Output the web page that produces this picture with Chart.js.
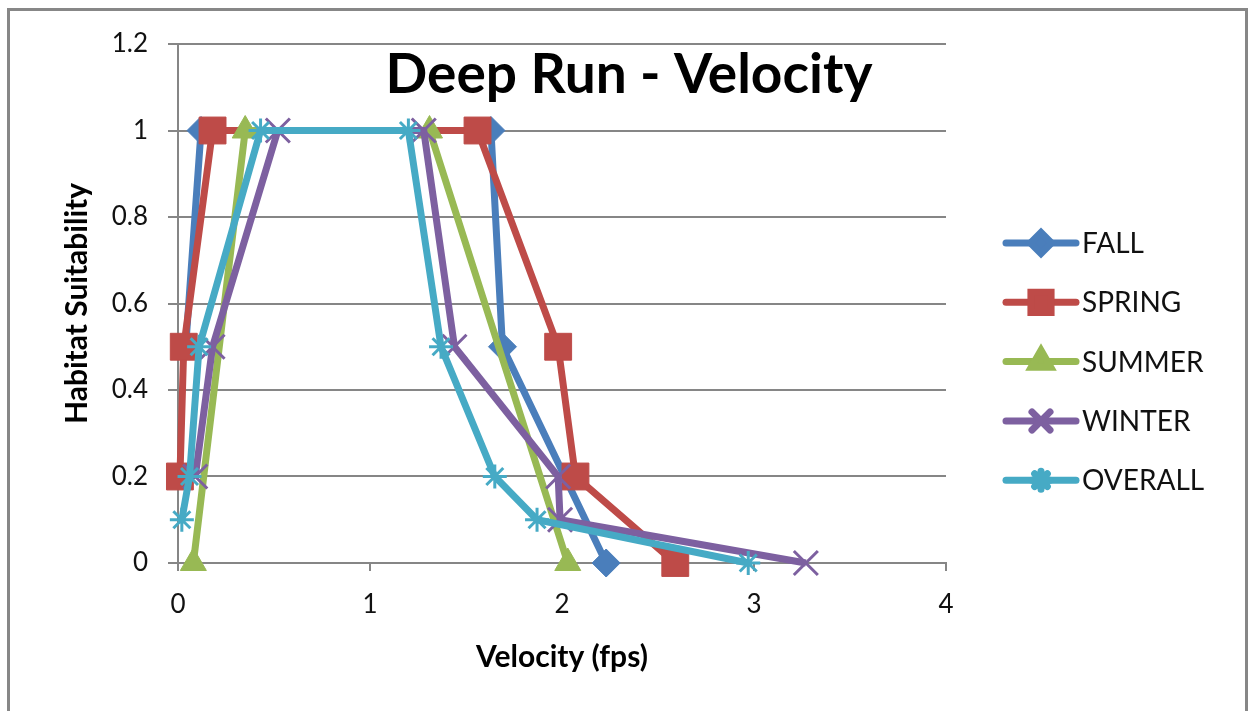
<!DOCTYPE html>
<html lang="en">
<head>
    <meta charset="UTF-8">
    <title>Deep Run - Velocity</title>
    <script src="https://cdn.jsdelivr.net/npm/chart.js"></script>
    <style>
        html, body { margin: 0; padding: 0; background: #fff; }
        #wrap { width: 1249px; height: 711px; }
    </style>
</head>
<body>
    <div id="wrap"><canvas id="chart" width="1249" height="711"></canvas></div>

    <script>
        // velocity (fps) and habitat suitability
        const seriesNames = ['FALL', 'SPRING', 'SUMMER', 'WINTER', 'OVERALL'];

        const fallVel = [0.04, 0.12, 1.63, 1.69, 2.23];
        const fallSuit = [0.5, 1, 1, 0.5, 0];

        const springVel = [0.01, 0.03, 0.18, 1.56, 1.98, 2.07, 2.59];
        const springSuit = [0.2, 0.5, 1, 1, 0.5, 0.2, 0];

        const summerVel = [0.08, 0.35, 1.31, 2.03];
        const summerSuit = [0, 1, 1, 0];

        const winterVel = [0.09, 0.18, 0.52, 1.28, 1.44, 1.98, 1.99, 3.27];
        const winterSuit = [0.2, 0.5, 1, 1, 0.5, 0.2, 0.1, 0];

        const overallVel = [0.02, 0.06, 0.11, 0.43, 1.2, 1.37, 1.65, 1.87, 2.97];
        const overallSuit = [0.1, 0.2, 0.5, 1, 1, 0.5, 0.2, 0.1, 0];

        const xTicks = [0, 1, 2, 3, 4];
        const yTicks = [0, 0.2, 0.4, 0.6, 0.8, 1, 1.2];

        const colors = ['#4A7EBB', '#BE4B48', '#98B954', '#7D60A0', '#46AAC5'];
        const markers = ['rectRot', 'rect', 'triangle', 'crossRot', 'star'];
        const markerSize = [14, 19, 15, 17, 12];

        const FONT = 'Lato, "Open Sans", sans-serif';
        const gridGray = '#868686';

        function pairs(xs, ys) {
            return xs.map((x, i) => ({ x, y: ys[i] }));
        }

        const allData = [
            pairs(fallVel, fallSuit),
            pairs(springVel, springSuit),
            pairs(summerVel, summerSuit),
            pairs(winterVel, winterSuit),
            pairs(overallVel, overallSuit)
        ];

        // later series sit on top, like the excel original
        const datasets = seriesNames.map((name, i) => ({
            label: name,
            data: allData[i],
            order: seriesNames.length - i,
            clip: false,
            borderColor: colors[i],
            backgroundColor: colors[i],
            borderWidth: 7,
            pointStyle: markers[i],
            pointRadius: markerSize[i],
            pointHoverRadius: markerSize[i],
            pointBackgroundColor: colors[i],
            pointBorderColor: colors[i],
            pointBorderWidth: (markers[i] === 'crossRot' || markers[i] === 'star') ? 3 : 1,
            tension: 0,
            fill: false
        }));

        // frame, title and legend are drawn on the canvas
        const decorations = {
            id: 'decorations',
            beforeDraw(chart) {
                const ctx = chart.ctx;
                ctx.save();
                ctx.fillStyle = '#fff';
                ctx.fillRect(0, 0, chart.width, chart.height);
                ctx.strokeStyle = '#878787';
                ctx.lineWidth = 3;
                ctx.beginPath();
                ctx.moveTo(8.5, chart.height);
                ctx.lineTo(8.5, 9.5);
                ctx.lineTo(1246.5, 9.5);
                ctx.lineTo(1246.5, chart.height);
                ctx.stroke();
                ctx.restore();
            },
            afterDraw(chart) {
                const ctx = chart.ctx;
                ctx.save();
                ctx.fillStyle = '#000';
                ctx.font = 'bold 55px ' + FONT;
                ctx.textAlign = 'center';
                ctx.textBaseline = 'alphabetic';
                ctx.fillText('Deep Run - Velocity', 629, 93);

                // legend
                ctx.font = '28px ' + FONT;
                ctx.textAlign = 'left';
                ctx.textBaseline = 'middle';
                chart.data.datasets.forEach((ds, i) => {
                    const y = 243 + i * 59.3;
                    ctx.strokeStyle = ds.borderColor;
                    ctx.lineWidth = 7;
                    ctx.lineCap = 'round';
                    ctx.beginPath();
                    ctx.moveTo(1006, y);
                    ctx.lineTo(1076, y);
                    ctx.stroke();
                    ctx.fillStyle = ds.borderColor;
                    Chart.helpers.drawPoint(ctx, {
                        pointStyle: ds.pointStyle,
                        radius: ds.pointRadius * 0.75,
                        borderWidth: ds.pointBorderWidth,
                        rotation: 0
                    }, 1041, y);
                    ctx.fillStyle = '#111';
                    ctx.fillText(ds.label, 1082, y + 1);
                });
                ctx.restore();
            }
        };

        new Chart(document.getElementById('chart').getContext('2d'), {
            type: 'line',
            data: { datasets },
            plugins: [decorations],
            options: {
                responsive: false,
                animation: false,
                layout: { padding: { left: 0, top: 44, right: 303, bottom: 0 } },
                plugins: {
                    legend: { display: false },
                    tooltip: { enabled: false },
                    title: { display: false }
                },
                scales: {
                    x: {
                        type: 'linear',
                        min: 0,
                        max: 4,
                        afterBuildTicks: scale => { scale.ticks = xTicks.map(v => ({ value: v })); },
                        afterFit: scale => { scale.height = 148; },
                        grid: {
                            drawOnChartArea: false,
                            drawTicks: true,
                            tickLength: 8,
                            color: gridGray,
                            lineWidth: 2
                        },
                        border: { display: true, color: gridGray, width: 2 },
                        ticks: {
                            padding: 18,
                            color: '#111',
                            font: { family: FONT, size: 26 }
                        },
                        title: {
                            display: true,
                            text: 'Velocity (fps)',
                            color: '#000',
                            font: { family: FONT, size: 30, weight: 'bold' },
                            padding: { top: 0, bottom: 36 }
                        }
                    },
                    y: {
                        min: 0,
                        max: 1.2,
                        afterBuildTicks: scale => { scale.ticks = yTicks.map(v => ({ value: v })); },
                        afterFit: scale => { scale.width = 178; },
                        grid: {
                            drawTicks: true,
                            tickLength: 10,
                            color: gridGray,
                            lineWidth: 2
                        },
                        border: { display: true, color: gridGray, width: 2 },
                        ticks: {
                            padding: 20,
                            color: '#111',
                            font: { family: FONT, size: 26 },
                            callback: v => String(Number(v.toFixed(1)))
                        },
                        title: {
                            display: true,
                            text: 'Habitat Suitability',
                            color: '#000',
                            font: { family: FONT, size: 30, weight: 'bold' },
                            padding: { top: 59, bottom: 0 }
                        }
                    }
                }
            }
        });
    </script>
</body>
</html>
